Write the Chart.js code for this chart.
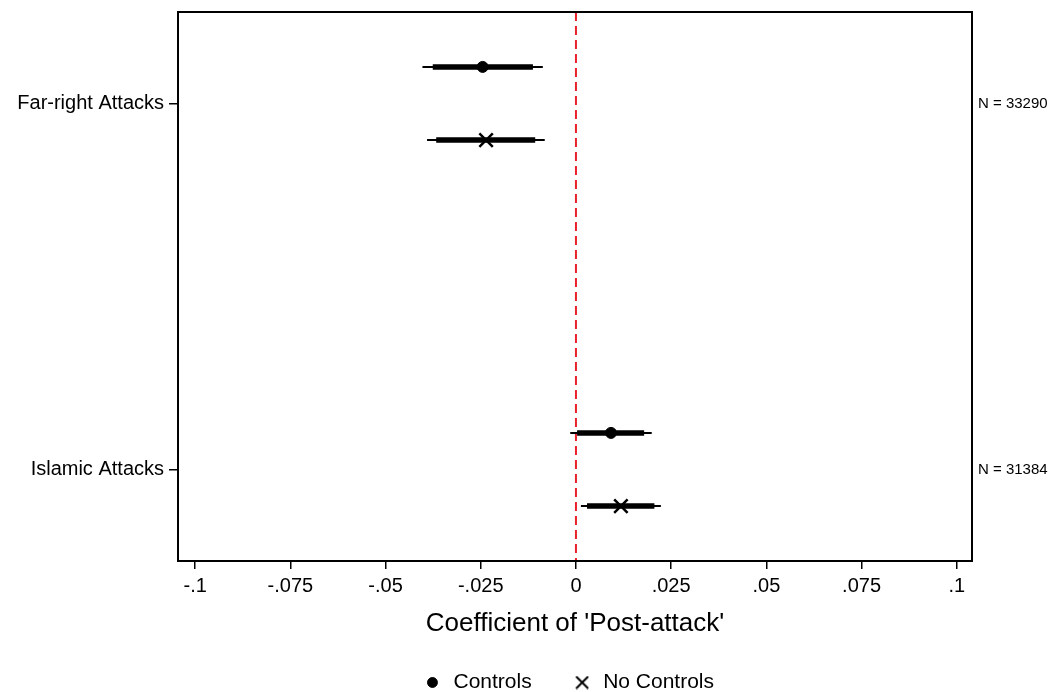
<!DOCTYPE html>
<html>
<head>
<meta charset="utf-8">
<script src="https://cdn.jsdelivr.net/npm/chart.js@4.4.1/dist/chart.umd.min.js"></script>
<style>
  html, body { margin: 0; padding: 0; background: #fff; }
  #wrap { width: 1055px; height: 692px; }
</style>
</head>
<body>
<div id="wrap"><canvas id="coefChart"></canvas></div>
<script>
// --- data ---
const categories = ['Far-right Attacks', 'Islamic Attacks'];
const categoryPos = [1, 0];
const sampleSizes = ['N = 33290', 'N = 31384'];

const controlsCoef = [-0.0245, 0.0092];
const controlsCI90 = [[-0.0376, -0.0113], [0.0003, 0.0179]];
const controlsCI95 = [[-0.0403, -0.0087], [-0.0015, 0.0199]];

const noControlsCoef = [-0.0236, 0.0118];
const noControlsCI90 = [[-0.0367, -0.0107], [0.0029, 0.0206]];
const noControlsCI95 = [[-0.0391, -0.0082], [0.0013, 0.0223]];

const xTicks = [-0.1, -0.075, -0.05, -0.025, 0, 0.025, 0.05, 0.075, 0.1];
const refLine = 0;

const font = "'Liberation Sans', Arial, Helvetica, sans-serif";
const controlsOffset = 0.1;
const noControlsOffset = -0.1;

function points(coefs, off) {
    return coefs.map((c, i) => ({ x: c, y: categoryPos[i] + off }));
}

// ranges as broken line: lo, hi, gap
function segments(ci, off) {
    const pts = [];
    ci.forEach((r, i) => {
        pts.push({ x: r[0], y: categoryPos[i] + off });
        pts.push({ x: r[1], y: categoryPos[i] + off });
        pts.push({ x: null, y: null });
    });
    return pts;
}

function ciDataset(ci, off, width) {
    return {
        label: 'ci',
        data: segments(ci, off),
        showLine: true,
        borderColor: '#000',
        borderWidth: width,
        pointRadius: 0,
        pointHoverRadius: 0,
        borderCapStyle: 'butt'
    };
}

const xLabel = v => v === 0 ? '0' : (v < 0 ? '-' : '') + Math.abs(v).toString().replace(/^0/, '');

// bigger X for the legend than crossRot gives at this box size
const legendCross = document.createElement('canvas');
legendCross.width = 14;
legendCross.height = 14;
(function () {
    const c = legendCross.getContext('2d');
    c.strokeStyle = '#000';
    c.lineWidth = 2;
    c.beginPath();
    c.moveTo(1, 1); c.lineTo(13, 13);
    c.moveTo(13, 1); c.lineTo(1, 13);
    c.stroke();
})();

const frameAndLine = {
    id: 'frameAndLine',
    // center the legend under the plot box, not the whole canvas
    afterUpdate(chart) {
        const lg = chart.legend;
        if (!lg) return;
        lg.left = chart.chartArea.left - 7;
        lg.right = chart.chartArea.right - 7;
        lg.adjustHitBoxes();
    },
    beforeDatasetsDraw(chart) {
        const { ctx, chartArea: a, scales } = chart;
        const px = scales.x.getPixelForValue(refLine);
        ctx.save();
        ctx.strokeStyle = '#e8212b';
        ctx.lineWidth = 2;
        ctx.setLineDash([9, 5]);
        ctx.beginPath();
        ctx.moveTo(px, a.top);
        ctx.lineTo(px, a.bottom);
        ctx.stroke();
        ctx.restore();
    },
    afterDraw(chart) {
        const { ctx, chartArea: a } = chart;
        ctx.save();
        ctx.strokeStyle = '#000';
        ctx.lineWidth = 2;
        ctx.strokeRect(a.left, a.top, a.right - a.left, a.bottom - a.top);
        ctx.restore();
    }
};

const noPad = s => { s.paddingTop = 0; s.paddingBottom = 0; };

const ctx = document.getElementById('coefChart').getContext('2d');
const coefChart = new Chart(ctx, {
    type: 'scatter',
    data: {
        datasets: [
            ciDataset(controlsCI95, controlsOffset, 2),
            ciDataset(controlsCI90, controlsOffset, 5.5),
            ciDataset(noControlsCI95, noControlsOffset, 2),
            ciDataset(noControlsCI90, noControlsOffset, 5.5),
            {
                label: 'Controls',
                data: points(controlsCoef, controlsOffset),
                pointStyle: 'circle',
                pointRadius: 5.5,
                backgroundColor: '#000',
                borderColor: '#000',
                borderWidth: 1
            },
            {
                label: 'No Controls',
                data: points(noControlsCoef, noControlsOffset),
                pointStyle: 'crossRot',
                pointRadius: 9.5,
                backgroundColor: '#000',
                borderColor: '#000',
                borderWidth: 2.5
            }
        ]
    },
    options: {
        responsive: true,
        maintainAspectRatio: false,
        animation: false,
        layout: { padding: { top: 11, left: 0, right: 0, bottom: -11 } },
        plugins: {
            tooltip: { enabled: false },
            legend: {
                position: 'bottom',
                labels: {
                    filter: item => item.text !== 'ci',
                    usePointStyle: true,
                    color: '#000',
                    padding: 40,
                    boxHeight: 7,
                    font: { family: font, size: 21 },
                    generateLabels: chart => {
                        const items = Chart.defaults.plugins.legend.labels.generateLabels(chart);
                        items.forEach(it => { if (it.text === 'No Controls') it.pointStyle = legendCross; });
                        return items;
                    }
                }
            }
        },
        scales: {
            x: {
                type: 'linear',
                min: -0.1045,
                max: 0.104,
                afterBuildTicks: s => { s.ticks = xTicks.map(v => ({ value: v })); },
                afterFit: s => { s.height = 71; s.paddingLeft = 0; s.paddingRight = 0; },
                ticks: {
                    color: '#000',
                    padding: 5,
                    maxRotation: 0,
                    font: { family: font, size: 20 },
                    callback: v => xLabel(v)
                },
                grid: { drawOnChartArea: false, tickLength: 8, color: '#000', lineWidth: 1.5 },
                border: { color: '#000', width: 2 },
                title: {
                    display: true,
                    text: "Coefficient of 'Post-attack'",
                    color: '#000',
                    padding: { top: 4, bottom: -7 },
                    font: { family: font, size: 26 }
                }
            },
            y: {
                type: 'linear',
                position: 'left',
                min: -0.25,
                max: 1.25,
                afterBuildTicks: s => { s.ticks = categoryPos.map(v => ({ value: v })); },
                afterFit: s => { s.width = 178; noPad(s); },
                ticks: {
                    color: '#000',
                    padding: 5,
                    font: { family: font, size: 20 },
                    callback: v => categories[categoryPos.indexOf(v)]
                },
                grid: { drawOnChartArea: false, tickLength: 9, color: '#000', lineWidth: 1.5 },
                border: { color: '#000', width: 2 }
            },
            y2: {
                type: 'linear',
                position: 'right',
                min: -0.25,
                max: 1.25,
                afterBuildTicks: s => { s.ticks = categoryPos.map(v => ({ value: v })); },
                afterFit: s => { s.width = 83; noPad(s); },
                ticks: {
                    color: '#000',
                    padding: -2,
                    font: { family: font, size: 15 },
                    callback: v => sampleSizes[categoryPos.indexOf(v)]
                },
                grid: { display: false },
                border: { color: '#000', width: 2 }
            }
        }
    },
    plugins: [frameAndLine]
});
</script>
</body>
</html>
